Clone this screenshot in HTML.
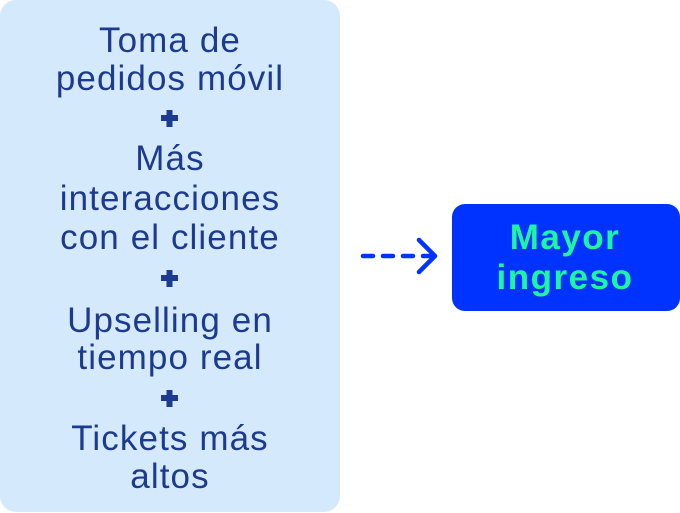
<!DOCTYPE html>
<html><head><meta charset="utf-8"><style>
html,body{margin:0;padding:0;background:#fff;}
body{width:680px;height:513px;position:relative;overflow:hidden;}
svg{position:absolute;left:0;top:0;}
</style></head><body>
<svg width="680" height="513" viewBox="0 0 680 513">
<rect x="0" y="0" width="340" height="512" rx="16" fill="#d5e9fd"/>
<g font-family="Liberation Sans, sans-serif" font-size="35" fill="#1c3a8e" text-anchor="middle" letter-spacing="1.1">
<text x="170" y="52">Toma de</text>
<text x="170" y="90">pedidos móvil</text>
<text x="170" y="170">Más</text>
<text x="170" y="210">interacciones</text>
<text x="170" y="249">con el cliente</text>
<text x="170" y="332">Upselling en</text>
<text x="170" y="369">tiempo real</text>
<text x="170" y="450">Tickets más</text>
<text x="170" y="488">altos</text>
</g>
<g fill="#1c3a8e">
<rect x="161" y="115" width="17" height="6"/><rect x="166.5" y="110" width="6" height="17"/>
<rect x="161" y="275" width="17" height="6"/><rect x="166.5" y="270" width="6" height="17"/>
<rect x="161" y="395" width="17" height="6"/><rect x="166.5" y="390" width="6" height="17"/>
</g>
<line x1="363" y1="256" x2="430" y2="256" stroke="#0033ff" stroke-width="4.5" stroke-linecap="round" stroke-dasharray="10 10"/>
<polyline points="419,240 435,256 419,272" fill="none" stroke="#0033ff" stroke-width="4.5" stroke-linecap="round" stroke-linejoin="round"/>
<rect x="452" y="204" width="228" height="107" rx="13" fill="#0033ff"/>
<g font-family="Liberation Sans, sans-serif" font-size="35" font-weight="bold" fill="#1ef5a0" text-anchor="middle" letter-spacing="1.5">
<text x="565" y="249">Mayor</text>
<text x="565" y="289">ingreso</text>
</g>
</svg>
</body></html>
